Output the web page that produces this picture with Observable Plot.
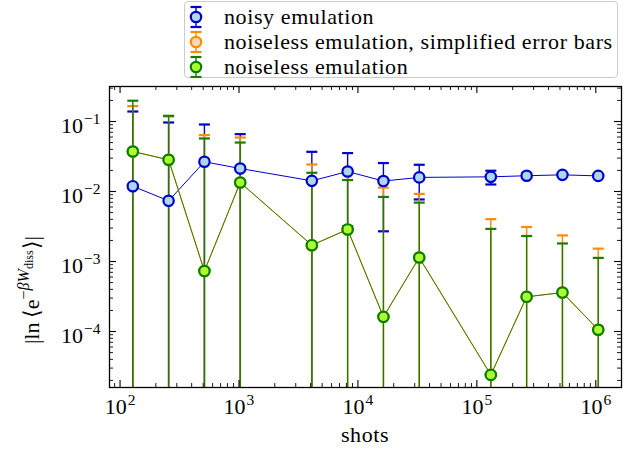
<!DOCTYPE html>
<html>
<head>
<meta charset="utf-8">
<script src="https://cdn.jsdelivr.net/npm/d3@7"></script>
<script src="https://cdn.jsdelivr.net/npm/@observablehq/plot@0.6"></script>
<style>
  body { margin: 0; background: white; }
  #wrap { position: relative; width: 639px; font-family: "Liberation Serif", serif; }
  #legendRow { position: relative; height: 80px; }
  #legendBox { position: absolute; left: 184px; top: 1px; width: 432px; height: 75px;
               border: 1.3px solid #cccccc; border-radius: 4px; background: white; }
  #legendBox svg { position: absolute; left: 0; top: 0; }
  #chart svg { display: block; }
</style>
</head>
<body>
<div id="wrap">
  <div id="legendRow"><div id="legendBox"></div></div>
  <div id="chart"></div>
</div>
<script>
// ---- data ----
const shots = [128, 256, 512, 1024, 4096, 8192, 16384, 32768, 131072, 262144, 524288, 1048576];
const noisyValues = [0.0119, 0.00736, 0.0266, 0.0213, 0.0142, 0.0193, 0.0141, 0.0159, 0.0162, 0.0168, 0.0173, 0.0167];
const noisyErrors = [0.127, 0.0894, 0.064, 0.0447, 0.0227, 0.0161, 0.0114, 0.0082, 0.0036, 0.0012, 0.0008, 0.0006];
const noiselessValues = [0.0373, 0.0284, 0.00073, 0.01345, 0.00171, 0.00287, 0.000162, 0.00114, 0.000024, 0.000313, 0.00036, 0.000106];
const simplifiedErrors = [0.1287, 0.0896, 0.0633, 0.0456, 0.0226, 0.0162, 0.0112, 0.0081, 0.0040, 0.0028, 0.0020, 0.00142];
const noiselessErrors = [0.1607, 0.0921, 0.0565, 0.0366, 0.0168, 0.0117, 0.0082, 0.0058, 0.0029, 0.0020, 0.00145, 0.00102];
const seriesNames = ["noisy emulation", "noiseless emulation, simplified error bars", "noiseless emulation"];
const xMajorTicks = [1e2, 1e3, 1e4, 1e5, 1e6];
const yMajorTicks = [1e-4, 1e-3, 1e-2, 1e-1];
const xDomain = [81.5, 1.645e6];
const yDomain = [Math.pow(10, -4.8), Math.pow(10, -0.5)];

// ---- styling ----
const FONT = "Liberation Serif";
const FS = 22;
const SUP = 15.5;
const LS = "0.6px";
const W = 639, H = 374;
const mL = 109, mR = 18, mT = 6, mB = 67;
const frameW = W - mL - mR, frameH = H - mT - mB;
const styles = [
  {line: "#0000cc", bar: "#0000cc", face: "#add8e6", edge: "#0000cd", lw: 1},
  {line: "#ff8c00", bar: "#ff8c00", face: "#ffdab9", edge: "#ff8c00", lw: 1},
  {line: "#3a7d00", bar: "#1f7a00", face: "#adff2f", edge: "#008000", lw: 1}
];

function minorTicks(lo, hi) {
  const out = [];
  for (let k = Math.floor(Math.log10(lo)); k <= Math.ceil(Math.log10(hi)); k++)
    for (let m = 2; m <= 9; m++) { const v = m * Math.pow(10, k); if (v >= lo && v <= hi) out.push(v); }
  return out;
}
const xMinor = minorTicks(xDomain[0], xDomain[1]);
const yMinor = minorTicks(yDomain[0], yDomain[1]);

function rows(values, errors) {
  return shots.map((s, i) => {
    const lo = values[i] - errors[i];
    return {shots: s, v: values[i], hi: values[i] + errors[i], lo: lo > 0 ? lo : 1e-12, hasLo: lo > 0};
  });
}
const series = [rows(noisyValues, noisyErrors), rows(noiselessValues, simplifiedErrors), rows(noiselessValues, noiselessErrors)];

const capSymbol = { draw(ctx, size) { const r = Math.sqrt(size / Math.PI); ctx.moveTo(-r, 0); ctx.lineTo(r, 0); } };

const marks = [];
series.forEach((data, i) => {
  const st = styles[i];
  marks.push(Plot.ruleX(data, {x: "shots", y1: "lo", y2: "hi", stroke: st.bar, strokeWidth: 1.4, clip: true}));
  marks.push(Plot.dot(data, {x: "shots", y: "hi", symbol: capSymbol, r: 5.5, stroke: st.bar, strokeWidth: 2.2, fill: "none", clip: true}));
  marks.push(Plot.dot(data.filter(d => d.hasLo), {x: "shots", y: "lo", symbol: capSymbol, r: 5.5, stroke: st.bar, strokeWidth: 2.2, fill: "none", clip: true}));
});
series.forEach((data, i) => {
  const st = styles[i];
  marks.push(Plot.line(data, {x: "shots", y: "v", stroke: st.line, strokeWidth: st.lw}));
  marks.push(Plot.dot(data, {x: "shots", y: "v", r: 5.2, fill: st.face, stroke: st.edge, strokeWidth: 2.2}));
});
// inward ticks on all four sides
const tk = (len) => frameW - len, tkv = (len) => frameH - len;
marks.push(
  Plot.tickY(yMajorTicks, {y: d => d, insetRight: tk(7), stroke: "black", strokeWidth: 1.1}),
  Plot.tickY(yMajorTicks, {y: d => d, insetLeft: tk(7), stroke: "black", strokeWidth: 1.1}),
  Plot.tickY(yMinor, {y: d => d, insetRight: tk(4), stroke: "black", strokeWidth: 0.9}),
  Plot.tickY(yMinor, {y: d => d, insetLeft: tk(4), stroke: "black", strokeWidth: 0.9}),
  Plot.tickX(xMajorTicks, {x: d => d, insetTop: tkv(7), stroke: "black", strokeWidth: 1.1}),
  Plot.tickX(xMajorTicks, {x: d => d, insetBottom: tkv(7), stroke: "black", strokeWidth: 1.1}),
  Plot.tickX(xMinor, {x: d => d, insetTop: tkv(4), stroke: "black", strokeWidth: 0.9}),
  Plot.tickX(xMinor, {x: d => d, insetBottom: tkv(4), stroke: "black", strokeWidth: 0.9}),
  Plot.axisX({ticks: xMajorTicks, tickSize: 0, tickPadding: 11, tickFormat: d => "10^" + Math.round(Math.log10(d)), fontSize: FS, label: null}),
  Plot.axisY({ticks: yMajorTicks, tickSize: 0, tickPadding: 9, dy: 4, tickFormat: d => "10^" + Math.round(Math.log10(d)), fontSize: FS, label: null}),
  Plot.frame({stroke: "black", strokeWidth: 1.3})
);

const svg = Plot.plot({
  width: W, height: H,
  marginLeft: mL, marginRight: mR, marginTop: mT, marginBottom: mB,
  style: {fontFamily: FONT, fontSize: FS + "px", background: "white", color: "black"},
  x: {type: "log", domain: xDomain},
  y: {type: "log", domain: yDomain},
  marks
});

// superscript exponents in tick labels
d3.select(svg).selectAll('g[aria-label="x-axis tick label"] text, g[aria-label="y-axis tick label"] text').each(function() {
  const t = d3.select(this);
  const s = t.text();
  const exp = s.split("^")[1].replace("-", "\u2212");
  t.text("");
  t.attr("font-family", FONT);
  t.append("tspan").text("10");
  t.append("tspan").attr("font-size", SUP).attr("dy", -9).attr("dx", 1).text(exp);
});

document.getElementById("chart").appendChild(svg);

// axis titles
const sv = d3.select(svg);
sv.append("text").attr("x", mL + frameW / 2).attr("y", 362).attr("text-anchor", "middle")
  .attr("font-family", FONT).attr("font-size", FS).attr("letter-spacing", LS).attr("fill", "black").text("shots");
const yl = sv.append("text").attr("font-family", FONT).attr("font-size", FS).attr("fill", "black");
yl.append("tspan").text("|ln\u2009\u27E8e");
yl.append("tspan").attr("font-size", 16).attr("dy", -10).text("\u2212");
yl.append("tspan").attr("font-size", 16).attr("font-style", "italic").text("\u03B2W");
yl.append("tspan").attr("font-size", 12).attr("dy", 4).text("diss");
yl.append("tspan").attr("font-size", FS).attr("dy", 6).attr("dx", 1).text("\u27E9|");
const ylLen = yl.node().getComputedTextLength();
yl.attr("transform", `translate(39,${mT + frameH / 2}) rotate(-90)`).attr("x", -ylLen / 2);

// legend
const lg = d3.select("#legendBox").append("svg").attr("width", 432).attr("height", 76);
[0, 1, 2].forEach((si, r) => {
  const st = styles[si];
  const cy = 15 + r * 25, cx = 11;
  const g = lg.append("g");
  g.append("line").attr("x1", cx).attr("x2", cx).attr("y1", cy - 10).attr("y2", cy + 10).attr("stroke", st.bar).attr("stroke-width", 1.4);
  g.append("line").attr("x1", cx - 5.5).attr("x2", cx + 5.5).attr("y1", cy - 10).attr("y2", cy - 10).attr("stroke", st.bar).attr("stroke-width", 2.2);
  g.append("line").attr("x1", cx - 5.5).attr("x2", cx + 5.5).attr("y1", cy + 10).attr("y2", cy + 10).attr("stroke", st.bar).attr("stroke-width", 2.2);
  g.append("circle").attr("cx", cx).attr("cy", cy).attr("r", 5.2).attr("fill", st.face).attr("stroke", st.edge).attr("stroke-width", 2.2);
  lg.append("text").attr("x", 39).attr("y", cy).attr("dy", "0.33em").attr("font-family", FONT).attr("font-size", FS)
    .attr("letter-spacing", LS).attr("fill", "black").text(seriesNames[si]);
});
</script>
</body>
</html>
